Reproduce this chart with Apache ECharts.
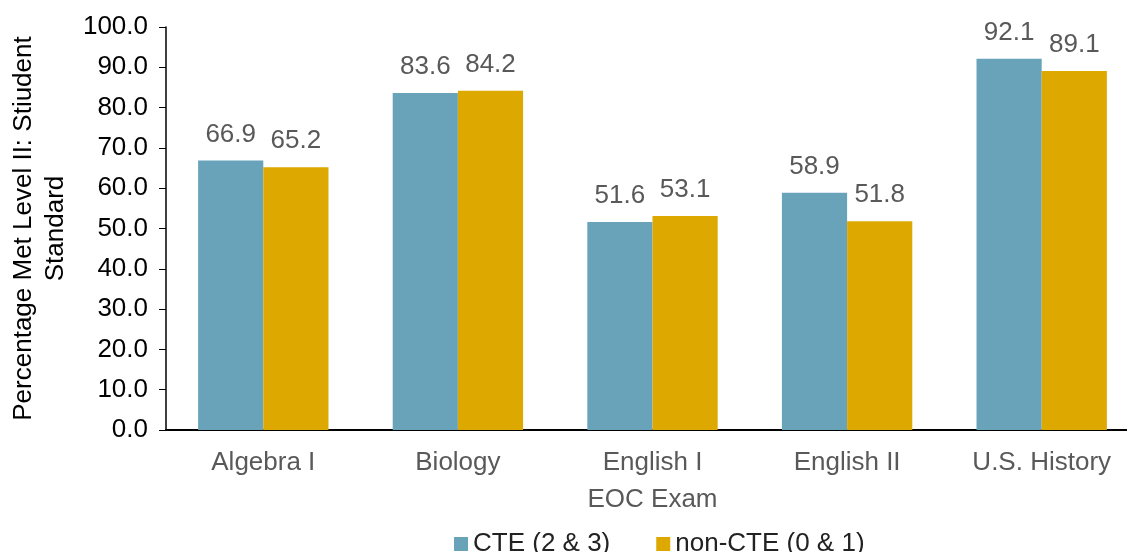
<!DOCTYPE html>
<html>
<head>
<meta charset="utf-8">
<script src="https://cdn.jsdelivr.net/npm/echarts@6/dist/echarts.min.js"></script>
<style>
  html, body { margin: 0; padding: 0; background: #fff; }
  #chart { width: 1127px; height: 552px; }
</style>
</head>
<body>
<div id="chart"></div>
<script>
var categories = ['Algebra I', 'Biology', 'English I', 'English II', 'U.S. History']
var cteValues = [66.9, 83.6, 51.6, 58.9, 92.1]
var nonCteValues = [65.2, 84.2, 53.1, 51.8, 89.1]
var seriesNames = ['CTE (2 & 3)', 'non-CTE (0 & 1)']

var font = 'Liberation Sans, Arial, sans-serif'
var myChart = echarts.init(document.getElementById('chart'))

function barSeries (name, data, color) {
  return {
    name: name,
    type: 'bar',
    data: data,
    barGap: '0%',
    barCategoryGap: '33%',
    itemStyle: { color: color },
    label: {
      show: true,
      position: 'top',
      distance: 13,
      color: '#595959',
      fontSize: 26,
      fontFamily: font,
      formatter: function (p) { return p.value.toFixed(1) }
    }
  }
}

var option = {
  animation: false,
  textStyle: { fontFamily: font },
  grid: {
    left: 166,
    width: 973,
    top: 27,
    bottom: 122,
    containLabel: false,
    outerBoundsMode: 'none'
  },
  legend: {
    top: 526,
    left: 449,
    itemWidth: 14,
    itemHeight: 14,
    itemGap: 46,
    icon: 'rect',
    textStyle: { fontSize: 26, color: '#222', fontFamily: font },
    data: seriesNames
  },
  xAxis: {
    type: 'category',
    data: categories,
    name: 'EOC Exam',
    nameLocation: 'middle',
    nameGap: 57,
    nameTextStyle: { fontSize: 26, color: '#595959', fontFamily: font },
    axisLine: { lineStyle: { color: '#000', width: 2 } },
    axisTick: { show: false },
    axisLabel: { fontSize: 26, color: '#595959', margin: 20, fontFamily: font }
  },
  yAxis: {
    type: 'value',
    min: 0,
    max: 100,
    interval: 10,
    name: 'Percentage Met Level II: Stiudent\nStandard',
    nameLocation: 'middle',
    nameGap: 94,
    nameTextStyle: { fontSize: 26, color: '#000', fontFamily: font, lineHeight: 32 },
    splitLine: { show: false },
    axisLine: { show: true, lineStyle: { color: '#000', width: 1.5 } },
    axisTick: { show: true, length: 7, lineStyle: { color: '#000' } },
    axisLabel: {
      fontSize: 26,
      color: '#000',
      margin: 18,
      fontFamily: font,
      formatter: function (v) { return v.toFixed(1) }
    }
  },
  series: [
    barSeries(seriesNames[0], cteValues, '#68A3BA'),
    barSeries(seriesNames[1], nonCteValues, '#DDA900')
  ]
}

myChart.setOption(option)
</script>
</body>
</html>
